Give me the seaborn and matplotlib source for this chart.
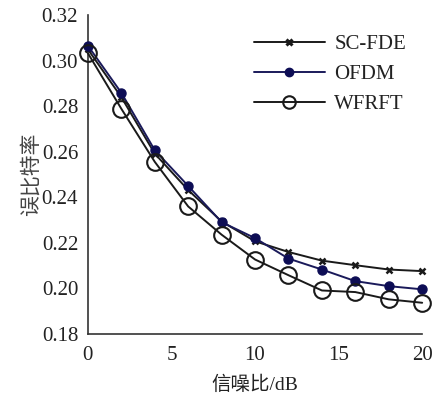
import matplotlib
matplotlib.use("Agg")
import matplotlib.pyplot as plt
import seaborn as sns
import pandas as pd

snr = [0, 2, 4, 6, 8, 10, 12, 14, 16, 18, 20]
sc_fde = [0.305, 0.284, 0.2592, 0.2432, 0.2294, 0.2207, 0.216, 0.2122, 0.2102, 0.2083, 0.2076]
ofdm = [0.3066, 0.2859, 0.2607, 0.245, 0.2291, 0.2221, 0.2131, 0.2083, 0.2032, 0.201, 0.1996]
wfrft = [0.3033, 0.2789, 0.2556, 0.236, 0.2236, 0.2127, 0.2058, 0.1991, 0.1984, 0.1952, 0.1937]
series_names = ["SC-FDE", "OFDM", "WFRFT"]
x_ticks = [0, 5, 10, 15, 20]
y_ticks = [0.18, 0.20, 0.22, 0.24, 0.26, 0.28, 0.30, 0.32]

df = pd.DataFrame({
    "snr": snr * 3,
    "ber": sc_fde + ofdm + wfrft,
    "series": sum([[n] * len(snr) for n in series_names], []),
})

sns.set_style("white")
plt.rcParams["font.family"] = ["Liberation Serif", "Noto Sans CJK SC"]

fig = plt.figure(figsize=(4.33, 3.99), dpi=100)
ax = fig.add_axes([0.203, 0.163, 0.772, 0.799])

styles = {
    "SC-FDE": dict(color="#1a1a1a", marker="x", ms=5, mew=1.8, mfc="#1a1a1a", mec="#1a1a1a"),
    "OFDM": dict(color="#1a1a5a", marker="o", ms=6.5, mfc="#0d0d55", mec="#0d0d55", mew=1),
    "WFRFT": dict(color="#1a1a1a", marker="o", ms=12, mfc="none", mec="#1a1a1a", mew=1.5),
}
for name in series_names:
    sub = df[df["series"] == name]
    st = styles[name]
    sns.lineplot(data=sub, x="snr", y="ber", ax=ax, color=st["color"], lw=1.4,
                 marker=st["marker"], markersize=st["ms"], markerfacecolor=st["mfc"],
                 markeredgecolor=st["mec"], markeredgewidth=st["mew"], label=name,
                 clip_on=False, zorder=3)

ax.set_xlim(0, 20)
ax.set_ylim(0.18, 0.32)
ax.set_xticks(x_ticks)
ax.set_yticks(y_ticks)
ax.set_xticklabels([str(t) for t in x_ticks])
ax.set_yticklabels([f"{t:.2f}" for t in y_ticks])
for s in ["top", "right"]:
    ax.spines[s].set_visible(False)
for s in ["left", "bottom"]:
    ax.spines[s].set_color("#333333")
    ax.spines[s].set_linewidth(1.2)
ax.tick_params(axis="both", direction="in", length=3, width=1, colors="#333333",
               labelsize=15, labelcolor="#222222")
ax.tick_params(axis="y", pad=7)
ax.tick_params(axis="x", pad=9)
ax.set_xlabel("信噪比/dB", fontsize=14, color="#222222", labelpad=7,
              family=["Liberation Serif", "Noto Sans CJK SC"])
ax.set_ylabel("误比特率", fontsize=15, color="#444444", labelpad=0,
              family=["Noto Sans CJK SC"])

leg = ax.legend(loc="upper right", frameon=False, fontsize=15, handlelength=3.4,
                labelspacing=0.5, borderaxespad=0.3, handletextpad=0.45,
                bbox_to_anchor=(0.995, 0.985))
for t in leg.get_texts():
    t.set_color("#222222")
hs = leg.legend_handles
hs[0].set_markeredgewidth(2.2)
hs[1].set_markersize(6)
hs[2].set_markersize(9)

fig.savefig("out.png", dpi=100)
